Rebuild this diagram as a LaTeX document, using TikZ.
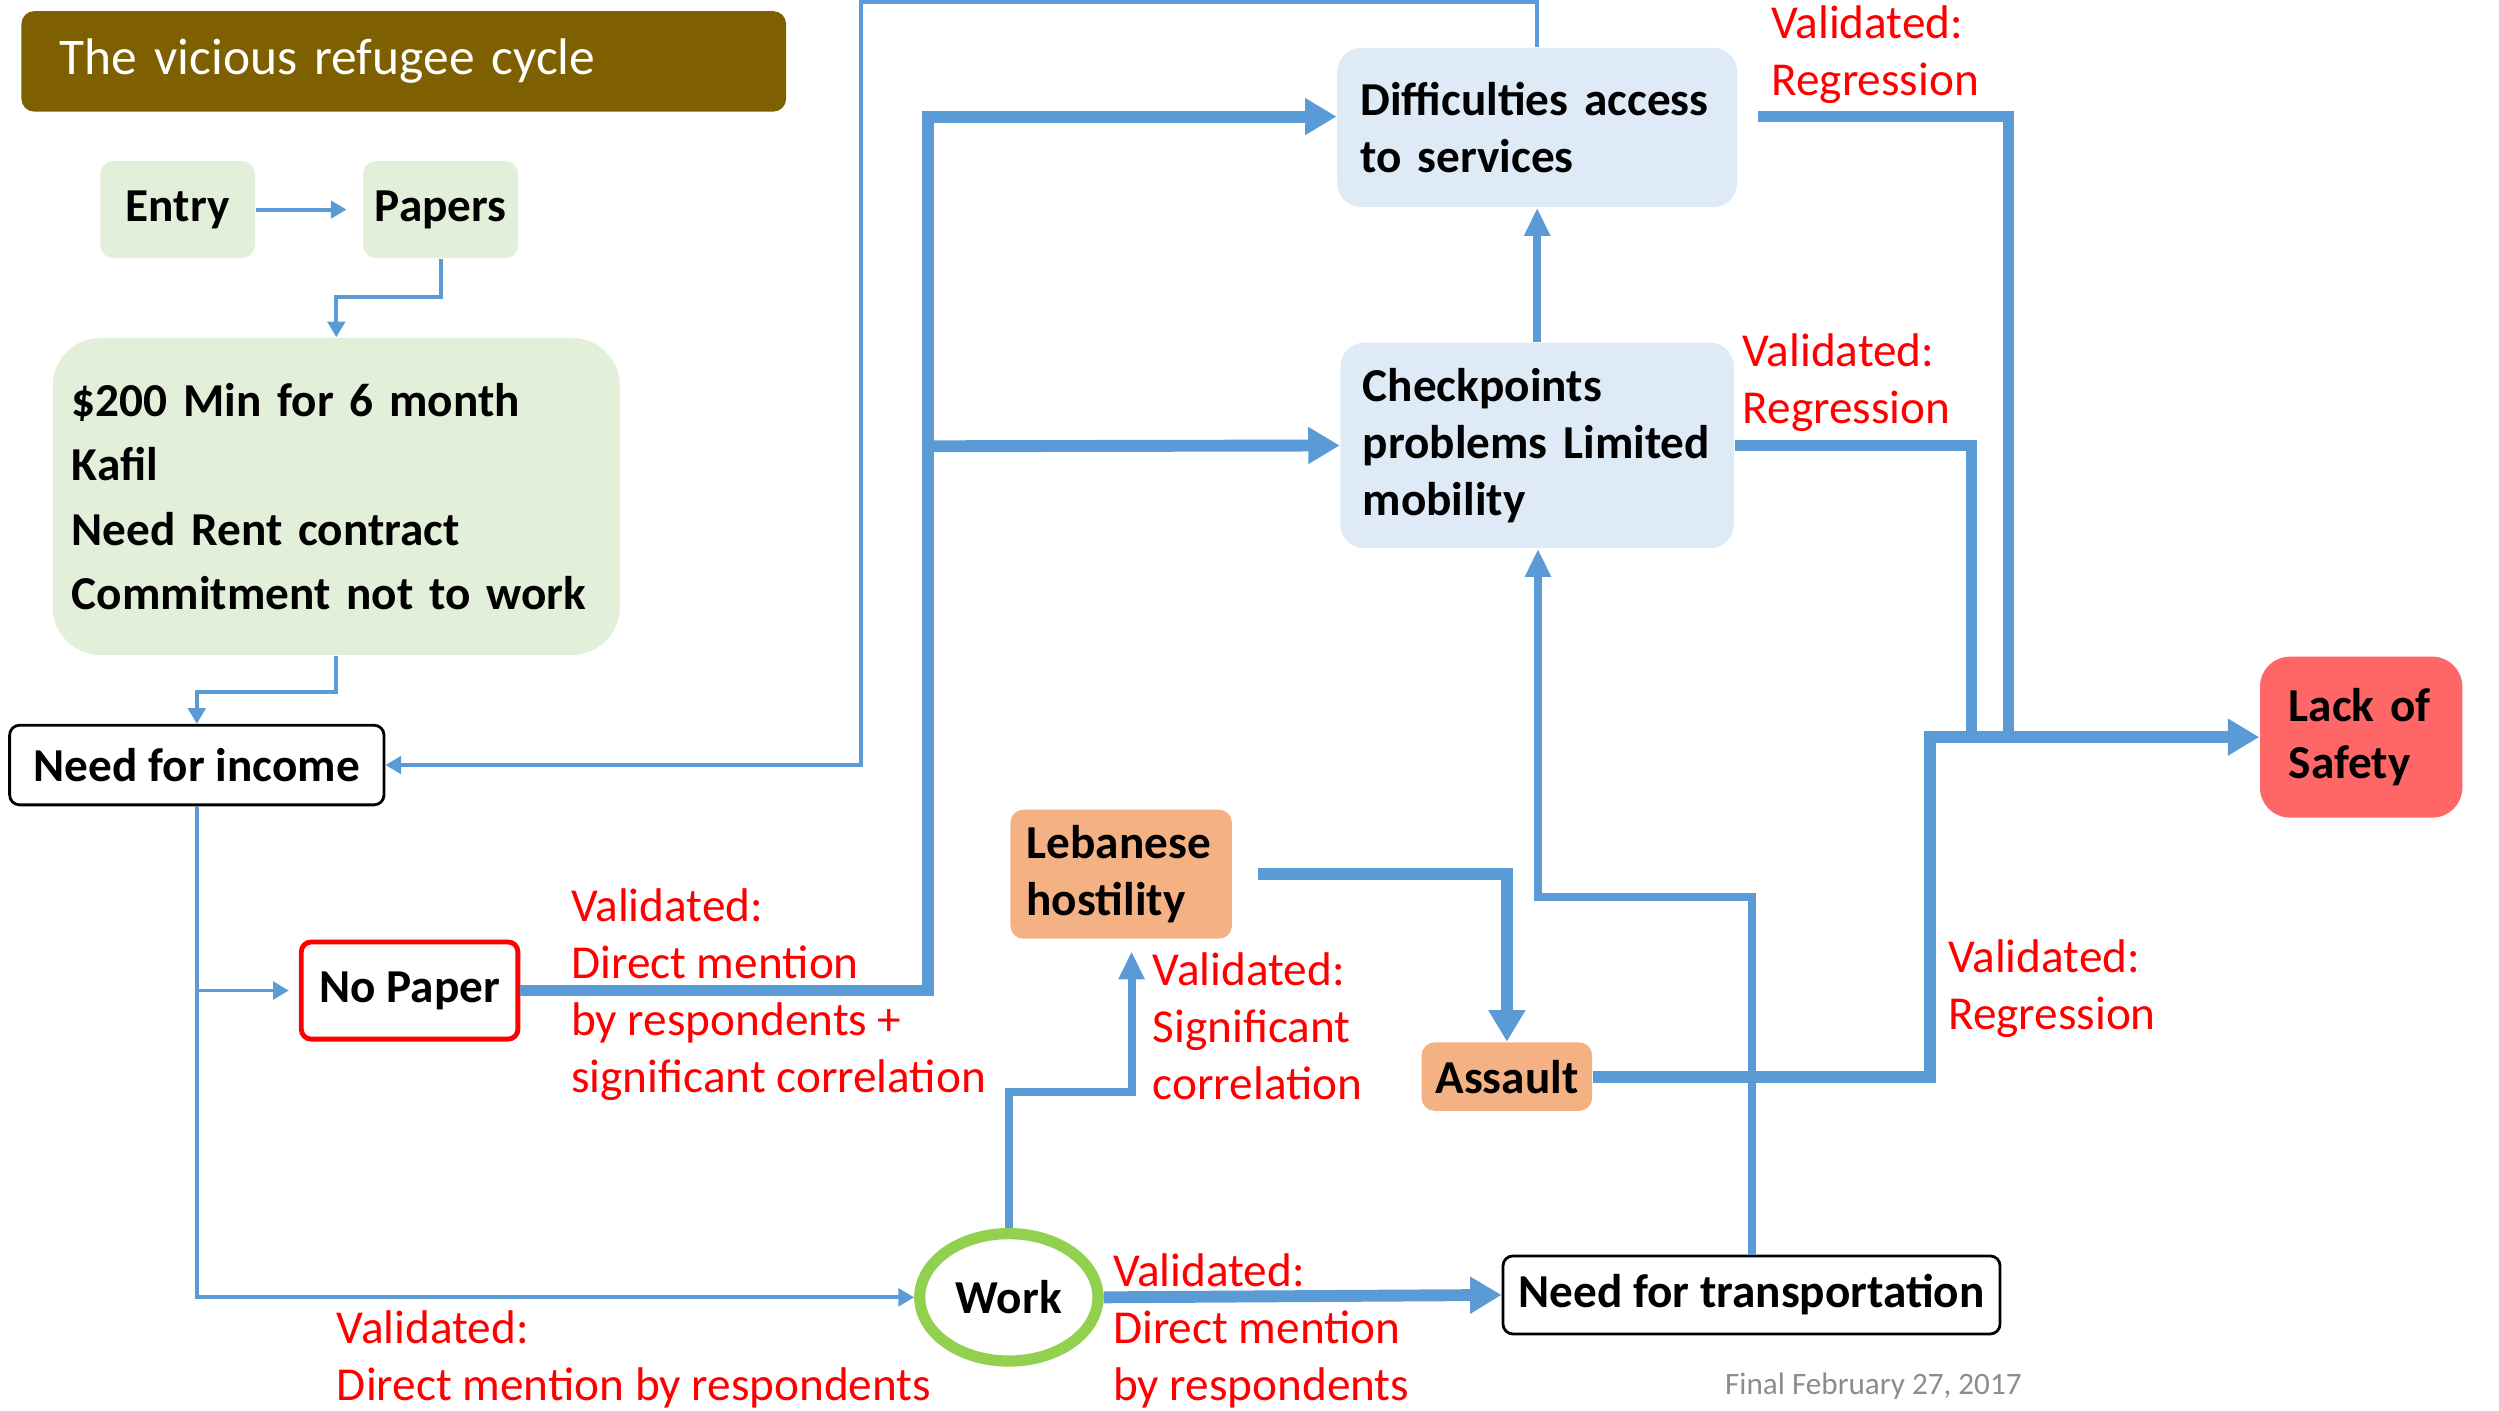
\documentclass[tikz,border=0pt]{standalone}
\usepackage{fontspec}
\setmainfont{Carlito}
\usetikzlibrary{shapes.geometric, positioning, arrows.meta}
\definecolor{titlebrown}{HTML}{7F6000}
\definecolor{boxgreen}{HTML}{E2F0D9}
\definecolor{boxblue}{HTML}{DEEBF7}
\definecolor{boxorange}{HTML}{F4B183}
\definecolor{boxred}{HTML}{FF6666}
\definecolor{lineblue}{HTML}{5B9BD5}
\definecolor{workgreen}{HTML}{92D050}
\hyphenpenalty=10000
\exhyphenpenalty=10000

\begin{document}
\begin{tikzpicture}[x=0.016cm, y=-0.016cm, font=\fontsize{13.5}{16.3}\selectfont]

% Define styles
\tikzstyle{titlebox} = [rectangle, fill=titlebrown, text=white, rounded corners=0.13cm, font=\fontsize{14.7}{17}\selectfont, text width=6.912cm, inner xsep=0.384cm, minimum height=1.01cm, align=left]
\tikzstyle{greenbox} = [rectangle, fill=boxgreen, rounded corners=0.13cm, font=\fontsize{13.5}{16.3}\selectfont\bfseries, minimum width=1.552cm, minimum height=0.976cm]
\tikzstyle{bluebox} = [rectangle, fill=boxblue, rounded corners=0.24cm, font=\fontsize{13.5}{16.3}\selectfont\bfseries, align=left]
\tikzstyle{orangebox} = [rectangle, fill=boxorange, rounded corners=0.13cm, font=\fontsize{13.5}{16.3}\selectfont\bfseries, align=left]
\tikzstyle{outlinebox} = [rectangle, draw, fill=white, line width=0.8pt, rounded corners=0.1cm, font=\fontsize{13.5}{16.3}\selectfont\bfseries]
\tikzstyle{evidence} = [text=red, align=left, anchor=north west, inner sep=0]
\tikzstyle{thinarrow} = [draw=lineblue, line width=1.1pt, -{Triangle[width=5pt,length=4.5pt]}]
\tikzstyle{medarrow} = [draw=lineblue, line width=2.3pt, -{Triangle[width=7pt,length=8pt]}]
\tikzstyle{thickarrow} = [draw=lineblue, line width=3.4pt, -{Triangle[width=10pt,length=9pt]}]
\tikzstyle{thickline} = [draw=lineblue, line width=3.2pt]

\useasboundingbox (0,0) rectangle (1568,885);

% Title
\node [titlebox, anchor=west] (title) at (13,38.5) {The vicious refugee cycle};

% Entry requirements
\node [greenbox] (entry) at (111.5,131.5) {Entry};
\node [greenbox] (papers) at (276.5,131.5) {Papers};
\node [greenbox, rounded corners=0.48cm, font=\fontsize{13.5}{18.4}\selectfont\bfseries, text width=5.312cm, inner xsep=0.192cm, minimum height=3.184cm, align=left] (conditions) at (211,311.5) {\$200 Min for 6 month\\Kafil\\Need Rent contract\\Commitment not to work};

% Needs
\node [outlinebox, minimum width=3.76cm, minimum height=0.8cm] (income) at (123.5,480) {Need for income};
\node [outlinebox, draw=red, line width=1.4pt, minimum width=2.176cm, minimum height=0.976cm] (nopaper) at (257,621.5) {No Paper};
\node [ellipse, draw=workgreen, fill=white, line width=3.2pt, minimum width=1.79cm, minimum height=1.28cm, inner sep=0, font=\fontsize{13.5}{16.3}\selectfont\bfseries] (work) at (633,814) {Work};
\node [outlinebox, minimum width=4.992cm, minimum height=0.784cm] (transport) at (1099,812.5) {Need for transportation};

% Services and mobility
\node [bluebox, text width=3.55cm, inner xsep=0.233cm, minimum height=1.6cm] (difficulties) at (964.5,80) {Difficulties access\\to services};
\node [bluebox, text width=3.504cm, inner xsep=0.224cm, minimum height=2.064cm] (checkpoints) at (964.5,279.5) {Checkpoints\\problems Limited\\mobility};

% Hostility
\node [orangebox, text width=1.9cm, inner xsep=0.162cm, minimum height=1.296cm] (hostility) at (703.5,548.5) {Lebanese\\hostility};
\node [orangebox, minimum width=1.712cm, minimum height=0.688cm] (assault) at (945.5,675.5) {Assault};

% Outcome
\node [rectangle, fill=boxred, rounded corners=0.3cm, font=\fontsize{13.5}{16.3}\selectfont\bfseries, text width=1.456cm, inner xsep=0.288cm, minimum height=1.616cm, align=left] (safety) at (1481.5,462.5) {Lack of\\Safety};

% Bends
\coordinate (loopcorner) at (540,1);
\coordinate (split) at (582,280);
\coordinate (workbend) at (710,685);
\coordinate (transbend) at (965,563);
\coordinate (mergeA) at (1260,462.5);
\coordinate (mergeB) at (1237,462.5);
\coordinate (merge) at (1211,462.5);

% Arrows
\draw [thinarrow, shorten >=0.16cm] (entry) -- (papers);
\draw [thinarrow] (papers.south) -- ++(0,24) -| (conditions.north);
\draw [thinarrow] (conditions.south) -- ++(0,23) -| (income.north);
\draw [thinarrow] (difficulties.north) |- (loopcorner) |- (income.east);
\draw [thinarrow] (income.south) |- (work.west);
\draw [thinarrow, shorten >=0.1cm] (income.south |- nopaper.west) -- (nopaper.west);
\draw [thickarrow] (nopaper.east) -| (split) |- ([yshift=0.11cm]difficulties.west);
\draw [thickarrow] (split) -- (checkpoints.west);
\draw [medarrow] (checkpoints.north) -- (difficulties.south);
\draw [thickline, shorten <=0.2cm] ([yshift=0.11cm]difficulties.east) -| (mergeA);
\draw [thickline] (checkpoints.east) -| (mergeB);
\draw [thickarrow] (assault.east) -| (merge) -- (safety.west);
\draw [thickarrow, shorten <=0.25cm] (hostility.east) -| (assault.north);
\draw [medarrow, shorten >=0.12cm] (work.north) |- (workbend) -- (workbend |- hostility.south);
\draw [thickarrow] (work.east) -- (transport.west);
\draw [medarrow] (transport.north) |- (transbend) -- (transbend |- checkpoints.south);

% Evidence labels
\node [evidence] (evnopaper) at (358,557) {Validated:\\Direct mention\\by respondents +\\significant correlation};
\node [evidence] (evservices) at (1111,3) {Validated:\\Regression};
\node [evidence] (evcheck) at (1093,209) {Validated:\\Regression};
\node [evidence] (evhostility) at (723,597) {Validated:\\Significant\\correlation};
\node [evidence] (evassault) at (1222,589) {Validated:\\Regression};
\node [evidence] (evtransport) at (698,786) {Validated:\\Direct mention\\by respondents};
\node [evidence] (evwork) at (211,822) {Validated:\\Direct mention by respondents};
\node [anchor=west, inner sep=0, text=black!45, font=\fontsize{8.9}{11}\selectfont] (date) at (1082,870) {Final February 27, 2017};

\end{tikzpicture}
\end{document}
